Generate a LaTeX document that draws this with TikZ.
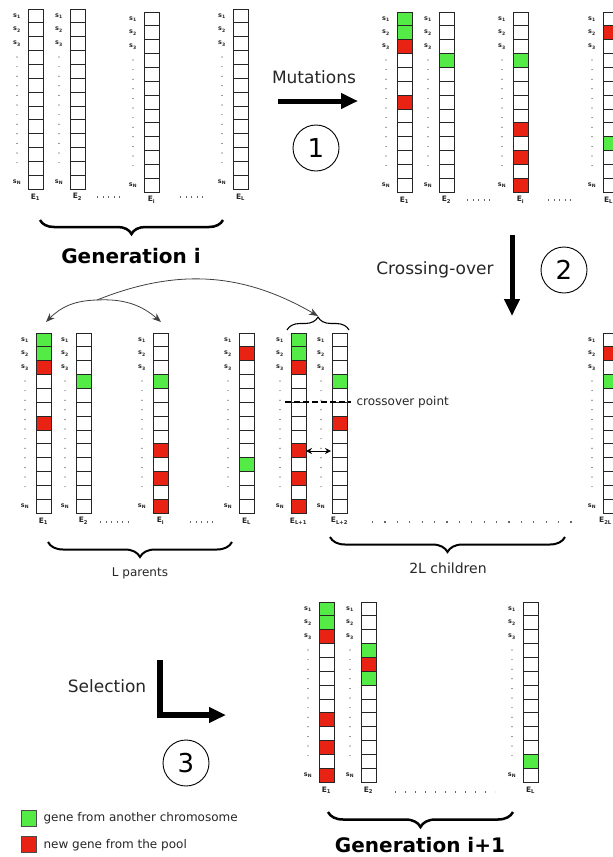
\documentclass[tikz,border=0pt]{standalone}
\usepackage{fontspec}
\setmainfont{DejaVu Sans}
\usetikzlibrary{arrows.meta,decorations.pathreplacing}

\definecolor{genegreen}{RGB}{85,235,70}
\definecolor{genered}{RGB}{232,35,20}

\tikzset{
  gene/.style={draw=black!85, line width=0.8pt, fill=white},
  slabel/.style={font=\fontsize{6.5}{7}\selectfont\bfseries, inner sep=0pt, text=black!85},
  elabel/.style={font=\fontsize{7.5}{8}\selectfont\bfseries, inner sep=0pt, text=black!85},
  stepname/.style={font=\fontsize{17}{20}\selectfont, text=black!85},
  stepnum/.style={draw, circle, line width=0.9pt, minimum size=46pt, inner sep=0pt,
    font=\fontsize{26}{28}\selectfont},
  gentitle/.style={font=\fontsize{20}{24}\selectfont\bfseries},
  note/.style={font=\fontsize{12}{14}\selectfont, text=black!85},
  bracket/.style={decorate, decoration={brace, amplitude=#1}, line width=2pt},
  bigarrow/.style={line width=5pt, -{Triangle[length=17pt,width=15pt]}},
  dotrow/.style={line width=1.1pt, black!60, dash pattern=on 1.1pt off #1},
  dotrow/.default=4.4pt
}

% one chromosome: [label options], name, x, y (top), subscript, green cells, red cells (0 = none)
\newcommand{\chromo}[7][]{%
  \foreach \k in {1,...,13}
    \draw[gene] (#3,#4+\k*13.85-13.85) rectangle ++(15,13.85);
  \foreach \k in {#6}
    {\ifnum\k>0 \draw[gene,fill=genegreen] (#3,#4+\k*13.85-13.85) rectangle ++(15,13.85);\fi}
  \foreach \k in {#7}
    {\ifnum\k>0 \draw[gene,fill=genered] (#3,#4+\k*13.85-13.85) rectangle ++(15,13.85);\fi}
  \foreach \k in {1,2,3}
    \node[slabel] (#2s\k) at (#3-11,#4+\k*13.85-6.9) {s\textsubscript{\k}};
  \foreach \d in {0,...,11}
    \fill[black!80] (#3-11,#4+48+\d*9.6) circle[radius=0.6pt];
  \node[slabel] (#2sN) at (#3-11,#4+173.1) {s\textsubscript{N}};
  \node[elabel,#1] (#2) at (#3+7.5,#4+188) {E\textsubscript{#5}};
}

\begin{document}
\begin{tikzpicture}[x=1pt, y=-1pt]
  \useasboundingbox (0,0) rectangle (613,857);
  \clip (0,0) rectangle (613,857);

  % generation i
  \chromo{gi1}{28}{9}{1}{0}{0}
  \chromo{gi2}{70}{9}{2}{0}{0}
  \chromo{gii}{144}{12}{i}{0}{0}
  \chromo{giL}{233}{9}{L}{0}{0}
  \draw[dotrow] (97,197) -- (121,197);
  \draw[dotrow] (180,197) -- (204,197);
  \draw[bracket=14pt, line width=2.5pt] (223,220) -- (40,220);
  \node[gentitle] (geni) at (131,256) {Generation i};

  % step 1
  \node[stepname] (mutations) at (314,77) {Mutations};
  \coordinate (mutA) at (278,101);
  \coordinate (mutB) at (358,101);
  \draw[bigarrow] (mutA) -- (mutB);
  \node[stepnum] (stepone) at (316,148) {1};

  % mutated generation
  \chromo{gm1}{397}{12}{1}{1,2}{3,7}
  \chromo{gm2}{439}{12}{2}{4}{0}
  \chromo{gmi}{513}{12}{i}{4}{9,11,13}
  \chromo[xshift=-2pt]{gmL}{603}{12}{L}{10}{2}
  \draw[dotrow] (467,200) -- (491,200);
  \draw[dotrow] (548,200) -- (572,200);

  % step 2
  \node[stepname] (crossing) at (435,270) {Crossing-over};
  \coordinate (crossA) at (512,235);
  \coordinate (crossB) at (512,316);
  \draw[bigarrow] (crossA) -- (crossB);
  \node[stepnum] (steptwo) at (564,270) {2};

  % parents
  \chromo{p1}{36}{333}{1}{1,2}{3,7}
  \chromo{p2}{76}{333}{2}{4}{0}
  \chromo{pi}{153}{333}{i}{4}{9,11,13}
  \chromo{pL}{239}{333}{L}{10}{2}
  \draw[dotrow] (100,522) -- (128,522);
  \draw[dotrow] (190,522) -- (214,522);
  \draw[bracket=15pt] (232,542) -- (48,542);
  \node[note] (parents) at (140,573) {L parents};

  % children
  \chromo{c1}{291}{333}{L+1}{1,2}{3,9,11,13}
  \chromo{c2}{332}{333}{L+2}{4}{7}
  \chromo[xshift=-5pt]{cL}{603}{333}{2L}{4}{2}
  \draw[dotrow=11.3pt] (372,522) -- (575,522);
  \draw[bracket=15pt] (565,537) -- (330,537);
  \node[note, font=\fontsize{14}{16}\selectfont] (children) at (448,568) {2L children};

  % crossover
  \draw[bracket=13pt, line width=1.1pt] (287,330) -- (349,330);
  \coordinate (kidtip) at (318,316);
  \coordinate (fork) at (97,300);
  \coordinate (p1top) at (46,322);
  \coordinate (pitop) at (161,322);
  \draw[black!75, line width=0.8pt, -{Stealth[length=9pt,width=7pt]}] (fork) to[bend right=22] (p1top);
  \draw[black!75, line width=0.8pt, -{Stealth[length=9pt,width=7pt]}] (fork) to[bend left=22] (pitop);
  \draw[black!75, line width=0.8pt, -{Stealth[length=9pt,width=7pt]}] (fork) to[bend left=26] (kidtip);
  \coordinate (cutA) at (285,402);
  \coordinate (cutB) at (351,402);
  \draw[line width=1.8pt, dash pattern=on 6pt off 3pt] (cutA) -- (cutB);
  \node[note, anchor=west] (cutpoint) at (353,402) {crossover point};
  \coordinate (swapA) at (306,451);
  \coordinate (swapB) at (331,451);
  \draw[line width=1pt, {Stealth[length=6pt,width=6pt]}-{Stealth[length=6pt,width=6pt]}] (swapA) -- (swapB);

  % step 3
  \node[stepname] (selection) at (107,686) {Selection};
  \coordinate (selA) at (160,660);
  \coordinate (selB) at (226,715);
  \draw[bigarrow, line width=5.5pt] (selA) |- (selB);
  \node[stepnum] (stepthree) at (186,763) {3};

  % generation i+1
  \chromo{gn1}{319}{602}{1}{1,2}{3,9,11,13}
  \chromo{gn2}{361}{602}{2}{4,6}{5}
  \chromo{gnL}{523}{602}{L}{12}{0}
  \draw[dotrow=8.9pt] (395,792) -- (495,792);
  \draw[bracket=15pt, line width=2.5pt] (513,812) -- (328,812);
  \node[gentitle] (genii) at (420,845) {Generation i+1};

  % legend
  \node[draw=black!70, fill=genegreen, minimum width=15pt, minimum height=16pt, inner sep=0pt] (keygreen) at (28.5,818.5) {};
  \node[note, anchor=west] (keygreentext) at (40,818) {gene from another chromosome};
  \node[draw=black!70, fill=genered, minimum width=15pt, minimum height=16pt, inner sep=0pt] (keyred) at (28.5,844.5) {};
  \node[note, anchor=west] (keyredtext) at (40,845) {new gene from the pool};
\end{tikzpicture}
\end{document}
